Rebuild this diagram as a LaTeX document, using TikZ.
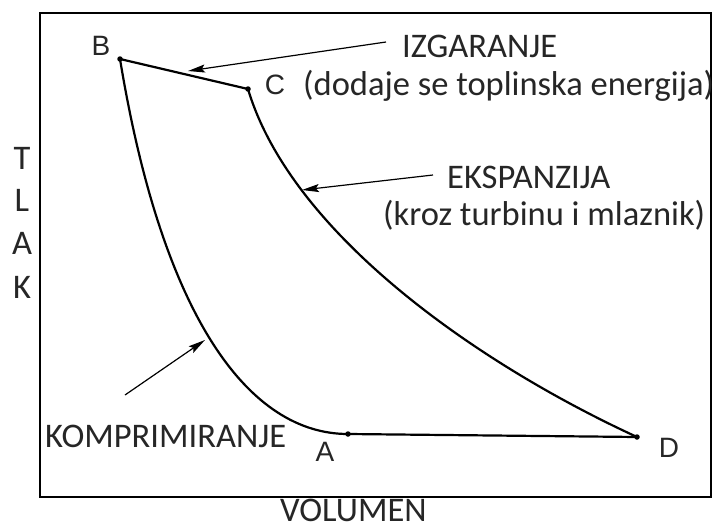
\documentclass[tikz,border=0pt]{standalone}
\usepackage{fontspec}
\setmainfont{Carlito}
\newfontfamily\labfont{Liberation Sans}
\usetikzlibrary{arrows.meta}
\tikzset{
  frame/.style={draw, line width=2pt},
  curve/.style={line width=2.2pt, line join=round},
  pt/.style={circle, fill, inner sep=0pt, minimum size=5.5pt},
  callout/.style={line width=1.2pt, -{Stealth[length=17pt,width=8pt,inset=3pt]}},
  txt/.style={font=\fontsize{34.5}{40}\selectfont, inner sep=0pt, text=black!85},
  ptlabel/.style={font=\labfont\fontsize{28}{32}\selectfont, inner sep=0pt, text=black!85},
}
\begin{document}
\begin{tikzpicture}[x=1pt,y=-1pt]
\useasboundingbox (0,0) rectangle (713,530);
\fill[white] (0,0) rectangle (713,530);
% frame
\draw[frame] (40,13) rectangle (711,497);
% state points
\node[pt] (B) at (120,59) {};
\node[pt] (C) at (248,89) {};
\node[pt] (A) at (348,434) {};
\node[pt] (D) at (637,437) {};
% cycle
\draw[curve] (B.center) -- (C.center);
\draw[curve] (C.center) .. controls (290,230) and (470,360) .. (D.center);
\draw[curve] (D.center) -- (A.center);
\draw[curve] (A.center) .. controls (250,434) and (163,320) .. (B.center);
% point labels
\node[ptlabel] (lB) at (101,46) {B};
\node[ptlabel] (lC) at (275,85) {C};
\node[ptlabel] (lA) at (325,452) {A};
\node[ptlabel] (lD) at (669,448) {D};
% texts
\node[txt, anchor=base west] (izg) at (402,57) {IZGARANJE};
\node[txt, anchor=base west] (izg2) at (303,95) {(dodaje se toplinska energija)};
\node[txt, anchor=base west] (eks) at (447,188) {EKSPANZIJA};
\node[txt, anchor=base west] (eks2) at (383,225) {(kroz turbinu i mlaznik)};
\node[txt, anchor=base west] (kom) at (45,447) {KOMPRIMIRANJE};
\node[txt, anchor=base west] (vol) at (280,521) {VOLUMEN};
\node[txt] (yT) at (22,158) {T};
\node[txt] (yL) at (22,200) {L};
\node[txt] (yA) at (22,243) {A};
\node[txt] (yK) at (22,287) {K};
% callouts
\coordinate (izgS) at (386,42);
\coordinate (izgE) at (188,71);
\coordinate (eksS) at (433,175);
\coordinate (eksE) at (302,190);
\coordinate (komS) at (125,395);
\coordinate (komE) at (205,340);
\draw[callout] (izgS) -- (izgE);
\draw[callout] (eksS) -- (eksE);
\draw[callout] (komS) -- (komE);
\end{tikzpicture}
\end{document}
